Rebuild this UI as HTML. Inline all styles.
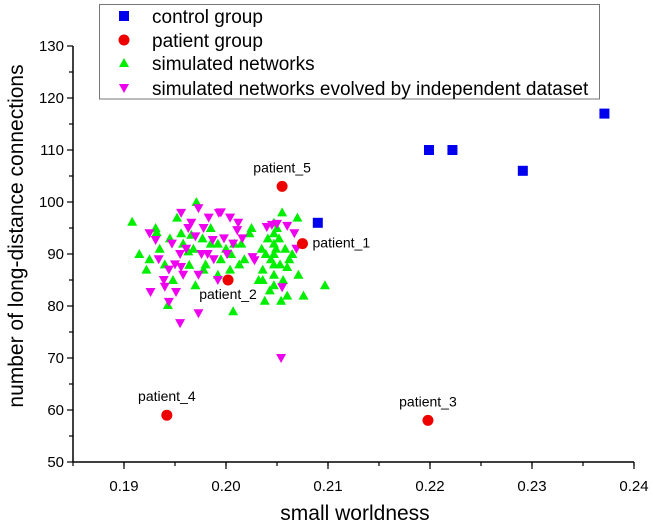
<!DOCTYPE html>
<html><head><meta charset="utf-8"><style>
body{margin:0;background:#fff;}
svg text{font-family:"Liberation Sans",Arial,sans-serif;}
</style></head><body>
<svg id="chart" width="653" height="525"></svg>
<script>
const controlX=[0.209,0.2199,0.2222,0.2291,0.2371];
const controlY=[96,110,110,106,117];
const patientX=[0.2075,0.2002,0.2198,0.1942,0.2055];
const patientY=[92,85,58,59,103];
const patientLabels=["patient_1","patient_2","patient_3","patient_4","patient_5"];
const simX=[0.1908,0.1931,0.1932,0.1952,0.1971,0.1956,0.1966,0.1977,0.1958,0.1925,0.194,0.1963,0.198,0.1964,0.1992,0.197,0.1943,0.1985,0.1992,0.2,
0.2055,0.207,0.2023,0.2035,0.2047,0.2047,0.2047,0.2047,0.2047,0.2047,0.205,0.2052,0.2044,0.2013,0.2004,0.2036,0.2071,0.2097,0.2076,0.206,0.2038,0.2007,0.2054,0.2036,0.2047,0.206,
0.1935,0.1945,0.1985,0.2005,0.2015,0.2025,0.2041,0.2058,0.2062,0.2043,0.2032,0.1995,0.1978,0.1968,0.1948,0.1922,0.1915,0.2008,0.2018,0.2053,0.2065,0.2056,0.2049,0.2039];
const simY=[96.2,95,94.2,97,100,94,93.7,93,92,89,88,90.5,88,87.9,86,84,80.2,92,92,91,
98,97,94,91,96,94,92,90,88,86,95,93,89,88,87,87,86,84,82,82,81,79,81,85,84,87.5,
91,93,95,90,92,95,93,91,89,83,85,89,87,91,85,87,90,92,89,88,90,85,91,90];
const evoX=[0.1956,0.1973,0.1993,0.1983,0.1966,0.1925,0.1931,0.1947,0.1963,0.197,0.1987,0.1998,0.1955,0.1976,0.1982,0.1988,0.1934,0.195,0.1956,0.1958,0.1944,0.1973,0.1992,0.194,0.1951,0.1926,0.1944,0.1973,0.1955,
0.2045,0.204,0.205,0.206,0.2004,0.1995,0.2012,0.2011,0.2016,0.2067,0.2069,0.2026,0.2028,0.2055,0.2054,0.1978,0.1961,0.1939,0.2001,0.2007];
const evoY=[97.9,98.8,97.9,97,96,94,92.7,92,95,93.4,92.7,93,90,90,90,89,89,88,87.5,86,87,86,85,83.7,82.7,82.7,80.8,78.6,76.7,
95.6,95.2,95.8,95.4,97,98,96,94.6,93,94,91,89.4,88.8,83.6,70,95,91,85,90,92];
const xTicks=[0.19,0.2,0.21,0.22,0.23,0.24];
const xTickLabels=["0.19","0.20","0.21","0.22","0.23","0.24"];
const yTicks=[50,60,70,80,90,100,110,120,130];

const svg=document.getElementById('chart');
const NS='http://www.w3.org/2000/svg';
const L=73,R=634,T=46,B=462;
const xMin=0.185,xMax=0.24,yMinV=50,yMaxV=130;
function sx(v){return L+(v-xMin)/(xMax-xMin)*(R-L);}
function sy(v){return B-(v-yMinV)/(yMaxV-yMinV)*(B-T);}
function el(tag,attrs,parent){const e=document.createElementNS(NS,tag);for(const k in attrs)e.setAttribute(k,attrs[k]);(parent||svg).appendChild(e);return e;}

const xa=el('line',{x1:L,y1:B,x2:R,y2:B,stroke:'#000','stroke-width':1.5});


const ya=el('line',{x1:L,y1:B,x2:L,y2:T,stroke:'#000','stroke-width':1.5});



xTicks.forEach((t,i)=>{
  const x=sx(t);
  el('line',{x1:x,y1:B,x2:x,y2:B+7,stroke:'#000','stroke-width':1.2});
  const tx=el('text',{x:x,y:B+29,'text-anchor':'middle','font-size':15,fill:'#000'});
  tx.textContent=xTickLabels[i];
  
  
});
for(let k=0;k<12;k++){const x=sx(0.185+k*0.005);el('line',{x1:x,y1:B,x2:x,y2:B+4,stroke:'#000','stroke-width':1.2});}
yTicks.forEach(t=>{
  const y=sy(t);
  el('line',{x1:L-6,y1:y,x2:L,y2:y,stroke:'#000','stroke-width':1.2});
  if(t<130)el('line',{x1:L-4,y1:sy(t+5),x2:L,y2:sy(t+5),stroke:'#000','stroke-width':1.2});
  const tx=el('text',{x:L-9,y:y+5,'text-anchor':'end','font-size':15,fill:'#000'});
  tx.textContent=String(t);
  
  
});
const xt=el('text',{x:355,y:520,'text-anchor':'middle','font-size':21,fill:'#000'});
xt.textContent='small worldness';


const yt=el('text',{x:0,y:0,'text-anchor':'middle','font-size':21,fill:'#000',transform:'translate(23,236) rotate(-90)'});
yt.textContent='number of long-distance connections';



function upTri(x,y,c){return el('polygon',{points:`${x},${y-5} ${x-5},${y+4} ${x+5},${y+4}`,fill:c});}
function downTri(x,y,c){return el('polygon',{points:`${x-5},${y-4} ${x+5},${y-4} ${x},${y+5}`,fill:c});}

simX.forEach((v,i)=>{const p=upTri(sx(v),sy(simY[i]),'#00ee00');

});
evoX.forEach((v,i)=>{const p=downTri(sx(v),sy(evoY[i]),'#ee00ee');

});
controlX.forEach((v,i)=>{const p=el('rect',{x:sx(v)-5,y:sy(controlY[i])-5,width:10,height:10,fill:'#0000ee'});

});
const lblOff=[[10,4,'start'],[0,19,'middle'],[0,-14,'middle'],[0,-14,'middle'],[0,-14,'middle']];
patientX.forEach((v,i)=>{const x=sx(v),y=sy(patientY[i]);
const p=el('circle',{cx:x,cy:y,r:5.5,fill:'#ee0000'});


const o=lblOff[i];
const t=el('text',{x:x+o[0],y:y+o[1],'text-anchor':o[2],'font-size':14,fill:'#000'});
t.textContent=patientLabels[i];

});

const lg=el('g',{});


el('rect',{x:99.5,y:4.5,width:500,height:94.5,fill:'#fff',stroke:'#777','stroke-width':1},lg);
const legendNames=["control group","patient group","simulated networks","simulated networks evolved by independent dataset"];
const legendRowY=[16,40,63,88];
legendNames.forEach((n,i)=>{
  const y=legendRowY[i];
  if(i===0)el('rect',{x:119,y:y-5,width:10,height:10,fill:'#0000ee'},lg);
  if(i===1)el('circle',{cx:124,cy:y,r:5.5,fill:'#ee0000'},lg);
  if(i===2){const p=upTri(124,y,'#00ee00');lg.appendChild(p);}
  if(i===3){const p=downTri(124,y,'#ee00ee');lg.appendChild(p);}
  const t=el('text',{x:152,y:y+7,'font-size':19,fill:'#000'},lg);
  t.textContent=n;
  
  
});
</script>
</body></html>
